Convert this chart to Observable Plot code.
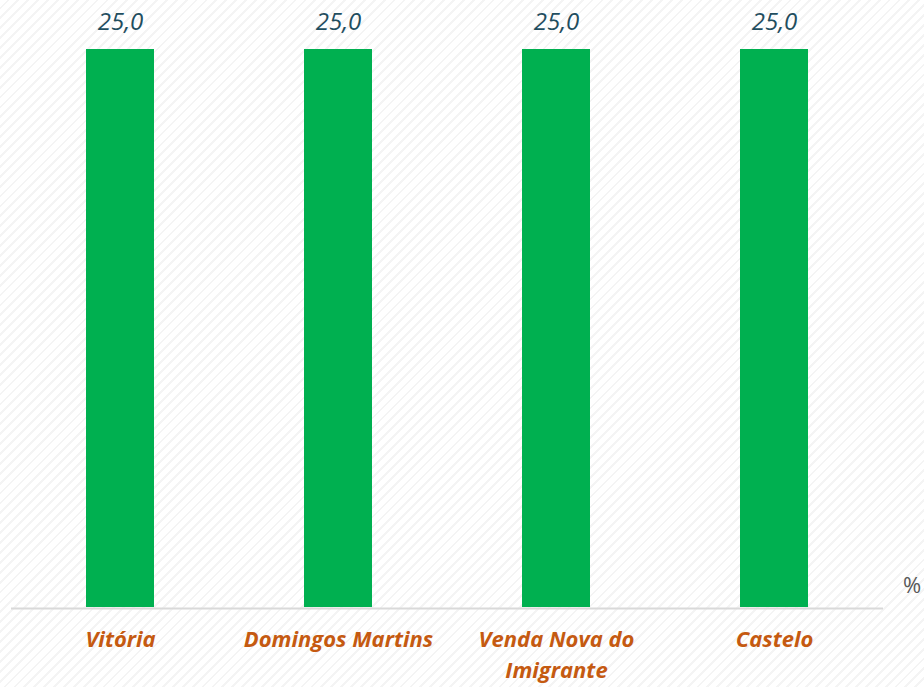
<!DOCTYPE html>
<html>
<head>
<meta charset="utf-8">
<script src="https://cdn.jsdelivr.net/npm/d3@7"></script>
<script src="https://cdn.jsdelivr.net/npm/@observablehq/plot@0.6"></script>
<style>
  html, body { margin: 0; padding: 0; }
  body {
    width: 924px; height: 687px; overflow: hidden;
    background: #ffffff repeating-linear-gradient(135deg, #ffffff 0px, #ffffff 5px, #f4f4f4 5px, #f4f4f4 7px);
  }
  #chart { position: relative; }
  #pct { position: absolute; left: 903px; top: 569px; font: 22px "Open Sans", sans-serif; color: #595959; }
  g[aria-label="x-axis tick label"] text { font-weight: bold; }
</style>
</head>
<body>
<div id="chart"></div>
<script>
const categories = ["Vitória", "Domingos Martins", "Venda Nova do Imigrante", "Castelo"];
const values = [25.0, 25.0, 25.0, 25.0];
const unit = "%";

const data = categories.map((c, i) => ({category: c, value: values[i]}));
const fmt = v => v.toFixed(1).replace(".", ",");

const plot = Plot.plot({
  width: 924,
  height: 687,
  marginLeft: 11,
  marginRight: 41,
  marginTop: 49,
  marginBottom: 80,
  style: {background: "transparent", fontFamily: "'Open Sans', sans-serif"},
  x: {domain: categories, paddingInner: 0.688, paddingOuter: 0.344, axis: null},
  y: {domain: [0, 25], axis: null},
  marks: [
    Plot.barY(data, {x: "category", y: "value", fill: "#00B050"}),
    Plot.ruleY([0], {stroke: "#d9d9d9", strokeWidth: 2, dy: 1}),
    Plot.text(data, {x: "category", y: "value", text: d => fmt(d.value), dy: -27,
      fill: "#1F4E5F", fontSize: 24, fontStyle: "italic"}),
    Plot.axisX({tickSize: 0, tickPadding: 18, fontSize: 22, fontWeight: "bold", fontStyle: "italic",
      fill: "#C55A11", color: "#C55A11", lineHeight: 1.4, label: null,
      tickFormat: d => d.replace(" do ", " do\n")})
  ]
});
document.getElementById("chart").appendChild(plot);
const p = document.createElement("div");
p.id = "pct"; p.textContent = unit;
document.getElementById("chart").appendChild(p);
</script>
</body>
</html>
